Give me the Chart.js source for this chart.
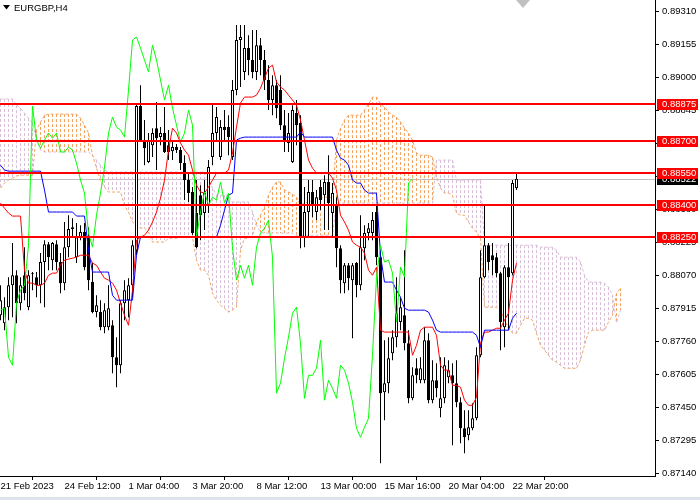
<!DOCTYPE html>
<html>
<head>
<meta charset="utf-8">
<script src="https://cdn.jsdelivr.net/npm/chart.js@4.4.0/dist/chart.umd.min.js"></script>
<style>
  html, body { margin: 0; padding: 0; background: #fff; overflow: hidden; }
  canvas { display: block; }
</style>
</head>
<body>
<canvas id="myChart" width="700" height="500"></canvas>
<script>
// EURGBP H4 - candles (bar index 0..129)
var opens = [
  0.87881,0.87844,0.87919,0.88022,0.88069,0.87938,0.88069,0.87919,0.88074,0.88060,
  0.88022,0.88131,0.88215,0.88140,0.88215,0.88131,0.88032,0.88201,0.88286,0.88154,
  0.88248,0.88272,0.88248,0.88037,0.87896,0.87896,0.87825,0.87825,0.87834,0.87684,
  0.87646,0.87938,0.87952,0.88022,0.88187,0.88864,0.88704,0.88601,0.88680,0.88760,
  0.88718,0.88737,0.88680,0.88652,0.88671,0.88657,0.88596,0.88516,0.88460,0.88361,
  0.88445,0.88361,0.88398,0.88624,0.88737,0.88624,0.88765,0.88765,0.88624,0.88939,
  0.89174,0.89024,0.89136,0.89080,0.89024,0.89150,0.89080,0.88986,0.88892,0.88962,
  0.88939,0.88774,0.88690,0.88601,0.88831,0.88784,0.88248,0.88366,0.88460,0.88366,
  0.88483,0.88445,0.88507,0.88361,0.88398,0.88196,0.88032,0.88116,0.88046,0.88126,
  0.88022,0.88196,0.88267,0.88267,0.88366,0.88154,0.87520,0.87562,0.87703,0.87778,
  0.87849,0.87881,0.87750,0.87491,0.87632,0.87576,0.87576,0.87764,0.87482,0.87576,
  0.87444,0.87491,0.87590,0.87599,0.87562,0.87473,0.87350,0.87318,0.87350,0.87397,
  0.87693,0.88060,0.88210,0.88163,0.88154,0.88079,0.87825,0.88107,0.88079,0.88478
];
var highs = [
  0.88022,0.87966,0.88060,0.88220,0.88093,0.88060,0.88201,0.88093,0.88084,0.88084,
  0.88173,0.88234,0.88225,0.88225,0.88234,0.88173,0.88319,0.88351,0.88337,0.88314,
  0.88304,0.88314,0.88295,0.88126,0.87975,0.87952,0.87938,0.88022,0.87858,0.87778,
  0.87952,0.88046,0.88055,0.88234,0.88878,0.88962,0.88798,0.88737,0.88760,0.88883,
  0.88765,0.88859,0.88751,0.88695,0.88685,0.88671,0.88633,0.88554,0.88483,0.88516,
  0.88492,0.88516,0.88610,0.88878,0.88859,0.88798,0.88845,0.88821,0.88986,0.89244,
  0.89244,0.89244,0.89197,0.89221,0.89221,0.89183,0.89127,0.89056,0.89009,0.88986,
  0.89009,0.88845,0.88831,0.88868,0.88892,0.88821,0.88483,0.88516,0.88516,0.88469,
  0.88516,0.88539,0.88633,0.88502,0.88436,0.88210,0.88126,0.88126,0.88126,0.88131,
  0.88351,0.88304,0.88314,0.88366,0.88398,0.88187,0.87764,0.87778,0.87811,0.88060,
  0.87966,0.88187,0.87811,0.87637,0.87679,0.87684,0.87825,0.87797,0.87670,0.87656,
  0.87684,0.87684,0.87670,0.87656,0.87670,0.87496,0.87435,0.87435,0.87468,0.87731,
  0.88187,0.88398,0.88220,0.88220,0.88173,0.88084,0.88116,0.88220,0.88516,0.88549
];
var lows = [
  0.87858,0.87811,0.87858,0.87872,0.87844,0.87905,0.87952,0.87905,0.87999,0.87966,
  0.87938,0.87919,0.88093,0.88093,0.88093,0.87985,0.87999,0.88154,0.88248,0.88126,
  0.88234,0.88093,0.87999,0.87891,0.87872,0.87811,0.87797,0.87811,0.87609,0.87543,
  0.87609,0.87858,0.87872,0.87966,0.88163,0.88695,0.88586,0.88596,0.88624,0.88563,
  0.88680,0.88643,0.88610,0.88610,0.88643,0.88563,0.88422,0.88413,0.88257,0.88196,
  0.88234,0.88281,0.88361,0.88586,0.88704,0.88610,0.88704,0.88633,0.88610,0.88915,
  0.88953,0.88986,0.89009,0.88995,0.88986,0.89009,0.88939,0.88845,0.88821,0.88807,
  0.88751,0.88648,0.88648,0.88596,0.88680,0.88196,0.88201,0.88248,0.88342,0.88328,
  0.88375,0.88281,0.88281,0.88248,0.88107,0.87985,0.87985,0.87999,0.87773,0.87966,
  0.87999,0.88140,0.88234,0.88234,0.88116,0.87186,0.87388,0.87515,0.87670,0.87731,
  0.87811,0.87717,0.87468,0.87482,0.87562,0.87562,0.87562,0.87468,0.87468,0.87496,
  0.87402,0.87468,0.87562,0.87271,0.87449,0.87280,0.87233,0.87294,0.87341,0.87388,
  0.87684,0.88055,0.88093,0.88069,0.88060,0.87717,0.87731,0.87811,0.88069,0.88469
];
var closes = [
  0.87952,0.87919,0.88022,0.88069,0.87938,0.88022,0.87985,0.88069,0.88079,0.88022,
  0.88131,0.88215,0.88154,0.88220,0.88131,0.88032,0.88201,0.88286,0.88295,0.88248,
  0.88272,0.88107,0.88046,0.87896,0.87928,0.87825,0.87905,0.87914,0.87684,0.87646,
  0.87938,0.87999,0.88022,0.88210,0.88864,0.88704,0.88666,0.88704,0.88737,0.88713,
  0.88737,0.88648,0.88648,0.88671,0.88657,0.88596,0.88516,0.88455,0.88267,0.88201,
  0.88351,0.88455,0.88577,0.88737,0.88812,0.88765,0.88751,0.88718,0.88939,0.89174,
  0.89188,0.89136,0.89080,0.89024,0.89150,0.89080,0.88986,0.88892,0.88962,0.88854,
  0.88774,0.88695,0.88737,0.88845,0.88774,0.88248,0.88366,0.88460,0.88398,0.88436,
  0.88422,0.88507,0.88408,0.88455,0.88196,0.88046,0.88116,0.88055,0.88116,0.88022,
  0.88201,0.88267,0.88290,0.88328,0.88154,0.87515,0.87562,0.87679,0.87778,0.87891,
  0.87919,0.87750,0.87491,0.87599,0.87599,0.87632,0.87764,0.87482,0.87576,0.87538,
  0.87491,0.87646,0.87623,0.87562,0.87473,0.87350,0.87308,0.87355,0.87397,0.87693,
  0.88060,0.88210,0.88131,0.88140,0.88079,0.87849,0.88107,0.88060,0.88502,0.88522
];

// Ichimoku lines
var tenkan = [
  0.88408,0.88384,0.88361,0.88347,0.88347,0.88347,0.88093,0.88032,0.88032,0.88022,
  0.88022,0.88032,0.88069,0.88079,0.88079,0.88116,0.88140,0.88145,0.88149,0.88154,
  0.88163,0.88163,0.88163,0.88126,0.88116,0.88084,0.88055,0.88046,0.88032,0.87999,
  0.87938,0.87881,0.87834,0.87999,0.88234,0.88248,0.88257,0.88281,0.88319,0.88366,
  0.88431,0.88516,0.88657,0.88760,0.88737,0.88690,0.88657,0.88633,0.88563,0.88492,
  0.88460,0.88455,0.88483,0.88516,0.88549,0.88549,0.88549,0.88563,0.88643,0.88765,
  0.88878,0.88906,0.88906,0.88906,0.88915,0.88948,0.88995,0.89042,0.89056,0.88977,
  0.88953,0.88939,0.88915,0.88892,0.88868,0.88798,0.88704,0.88610,0.88572,0.88549,
  0.88549,0.88549,0.88549,0.88525,0.88469,0.88351,0.88319,0.88281,0.88225,0.88210,
  0.88201,0.88173,0.88093,0.88069,0.88107,0.87811,0.87802,0.87802,0.87802,0.87802,
  0.87802,0.87802,0.87802,0.87693,0.87740,0.87811,0.87825,0.87825,0.87825,0.87787,
  0.87646,0.87623,0.87623,0.87552,0.87552,0.87543,0.87482,0.87458,0.87458,0.87496,
  0.87750,0.87802,0.87802,0.87811,0.87820,0.87820,0.87858,0.87891,0.88046,0.88126
];
var kijun = [
  0.88586,0.88563,0.88558,0.88558,0.88558,0.88558,0.88558,0.88558,0.88558,0.88558,
  0.88558,0.88469,0.88366,0.88366,0.88366,0.88366,0.88366,0.88366,0.88366,0.88347,
  0.88347,0.88347,0.88187,0.88084,0.88084,0.88084,0.88084,0.88084,0.87975,0.87952,
  0.87952,0.87952,0.87952,0.87952,0.88163,0.88248,0.88248,0.88248,0.88248,0.88248,
  0.88248,0.88248,0.88248,0.88248,0.88248,0.88248,0.88248,0.88248,0.88248,0.88248,
  0.88248,0.88248,0.88248,0.88248,0.88248,0.88304,0.88375,0.88445,0.88455,0.88704,
  0.88713,0.88718,0.88718,0.88718,0.88718,0.88718,0.88718,0.88718,0.88718,0.88718,
  0.88718,0.88718,0.88718,0.88718,0.88718,0.88742,0.88718,0.88718,0.88718,0.88718,
  0.88718,0.88718,0.88718,0.88718,0.88657,0.88619,0.88610,0.88586,0.88516,0.88502,
  0.88502,0.88469,0.88455,0.88455,0.88455,0.88163,0.88037,0.88037,0.88037,0.87999,
  0.87966,0.87914,0.87905,0.87905,0.87905,0.87905,0.87905,0.87896,0.87858,0.87811,
  0.87802,0.87802,0.87802,0.87802,0.87802,0.87802,0.87802,0.87802,0.87802,0.87787,
  0.87731,0.87811,0.87811,0.87811,0.87811,0.87811,0.87811,0.87811,0.87867,0.87891
];
// Senkou spans, already shifted 26 bars forward (index 0..155)
var spanA = [
  0.88478,0.88502,0.88516,0.88525,0.88535,0.88539,0.88539,0.88539,0.88539,0.88751,
  0.88789,0.88821,0.88826,0.88826,0.88826,0.88826,0.88826,0.88826,0.88826,0.88826,
  0.88807,0.88774,0.88737,0.88633,0.88572,0.88516,0.88483,0.88460,0.88460,0.88460,
  0.88460,0.88398,0.88366,0.88319,0.88304,0.88290,0.88290,0.88272,0.88225,0.88225,
  0.88225,0.88225,0.88243,0.88243,0.88243,0.88248,0.88248,0.88248,0.88248,0.88140,
  0.88093,0.88093,0.88069,0.87985,0.87952,0.87928,0.87914,0.87896,0.87905,0.87919,
  0.88187,0.88243,0.88243,0.88257,0.88319,0.88351,0.88389,0.88445,0.88483,0.88507,
  0.88507,0.88469,0.88460,0.88450,0.88436,0.88398,0.88408,0.88413,0.88422,0.88422,
  0.88431,0.88436,0.88436,0.88436,0.88704,0.88760,0.88798,0.88821,0.88821,0.88821,
  0.88821,0.88845,0.88873,0.88906,0.88906,0.88873,0.88859,0.88836,0.88821,0.88812,
  0.88789,0.88760,0.88737,0.88704,0.88643,0.88633,0.88633,0.88633,0.88624,0.88530,
  0.88478,0.88455,0.88455,0.88445,0.88361,0.88351,0.88351,0.88319,0.88290,0.88272,
  0.88243,0.87919,0.87919,0.87919,0.87919,0.87905,0.87858,0.87820,0.87797,0.87797,
  0.87834,0.87867,0.87867,0.87858,0.87797,0.87740,0.87717,0.87693,0.87670,0.87661,
  0.87646,0.87632,0.87632,0.87632,0.87632,0.87670,0.87740,0.87802,0.87811,0.87811,
  0.87811,0.87811,0.87849,0.87881,0.87985,0.88008
];
var spanB = [
  0.88897,0.88897,0.88897,0.88897,0.88868,0.88854,0.88831,0.88807,0.88784,0.88704,
  0.88657,0.88648,0.88648,0.88648,0.88648,0.88648,0.88648,0.88648,0.88648,0.88648,
  0.88648,0.88648,0.88648,0.88633,0.88610,0.88586,0.88563,0.88554,0.88554,0.88554,
  0.88554,0.88554,0.88554,0.88554,0.88554,0.88554,0.88554,0.88554,0.88554,0.88554,
  0.88554,0.88554,0.88554,0.88554,0.88554,0.88554,0.88554,0.88554,0.88554,0.88554,
  0.88554,0.88554,0.88516,0.88478,0.88445,0.88445,0.88445,0.88445,0.88413,0.88413,
  0.88413,0.88413,0.88413,0.88366,0.88304,0.88272,0.88267,0.88267,0.88267,0.88267,
  0.88267,0.88267,0.88267,0.88267,0.88257,0.88257,0.88257,0.88257,0.88257,0.88257,
  0.88257,0.88257,0.88257,0.88257,0.88408,0.88408,0.88408,0.88408,0.88408,0.88408,
  0.88408,0.88408,0.88408,0.88408,0.88408,0.88408,0.88408,0.88408,0.88408,0.88408,
  0.88408,0.88408,0.88408,0.88408,0.88408,0.88408,0.88408,0.88408,0.88408,0.88610,
  0.88610,0.88610,0.88610,0.88610,0.88516,0.88516,0.88516,0.88516,0.88516,0.88516,
  0.88516,0.88210,0.88210,0.88210,0.88210,0.88210,0.88210,0.88210,0.88210,0.88210,
  0.88210,0.88210,0.88210,0.88210,0.88210,0.88201,0.88201,0.88201,0.88201,0.88187,
  0.88154,0.88154,0.88154,0.88154,0.88154,0.88131,0.88069,0.88037,0.88037,0.88037,
  0.88037,0.88032,0.88013,0.87975,0.87844,0.87905
];

// horizontal levels and axes
var levels = [0.88875, 0.88700, 0.88550, 0.88400, 0.88250];
var priceTicks = [0.89310,0.89155,0.89000,0.88845,0.88690,0.88535,0.88380,0.88225,
                  0.88070,0.87915,0.87760,0.87605,0.87450,0.87295,0.87140];
var timeTickIdx = [0, 16, 32, 48, 64, 80, 96, 112, 128];
var timeLabels = ["21 Feb 2023","24 Feb 12:00","1 Mar 04:00","3 Mar 20:00","8 Mar 12:00",
                  "13 Mar 00:00","15 Mar 16:00","20 Mar 04:00","22 Mar 20:00"];
var chikouShift = 26;

var FONT = "Liberation Sans";
var AXIS_W = 45, AXIS_H = 24;
var lastClose = closes[closes.length - 1];

// datasets built from the arrays
var wickData = highs.map((h, i) => ({ x: i, y: [lows[i], h] }));
var bodyData = opens.map((o, i) => ({ x: i, y: [Math.min(o, closes[i]), Math.max(o, closes[i])] }));
var bodyFill = opens.map((o, i) => (closes[i] >= o ? "#ffffff" : "#000000"));
var toPts = (arr) => arr.map((v, i) => ({ x: i, y: v }));
var chikouData = closes.slice(chikouShift).map((c, i) => ({ x: i, y: c }));

// no label padding, so the plot fills 0..655 x 0..476
function noPad(s) {
  s.paddingTop = 0; s.paddingBottom = 0; s.paddingLeft = 0; s.paddingRight = 0;
}

// CLOUD HATCH + CURRENT PRICE LINE (behind the candles)
var cloudPlugin = {
  id: "cloud",
  beforeDatasetsDraw(chart) {
    var ctx = chart.ctx, xs = chart.scales.x, ys = chart.scales.y, area = chart.chartArea;
    ctx.save();
    ctx.beginPath();
    ctx.rect(area.left, area.top, area.right - area.left, area.bottom - area.top);
    ctx.clip();
    // grey bid line
    ctx.fillStyle = "#c0c0c0";
    ctx.fillRect(area.left, Math.round(ys.getPixelForValue(lastClose)), area.right - area.left, 1);
    ctx.lineWidth = 1;
    ctx.setLineDash([3, 2]);
    spanA.forEach((a, i) => {
      var b = spanB[i];
      var x = xs.getPixelForValue(i);
      ctx.strokeStyle = a > b ? "#f4a460" : "#d8bfd8";
      ctx.beginPath();
      ctx.moveTo(x, ys.getPixelForValue(Math.max(a, b)));
      ctx.lineTo(x, ys.getPixelForValue(Math.min(a, b)));
      ctx.stroke();
    });
    ctx.restore();
  }
};

// RED LEVELS + PRICE LABELS + TITLE
var overlayPlugin = {
  id: "overlay",
  afterDatasetsDraw(chart) {
    var ctx = chart.ctx, ys = chart.scales.y, area = chart.chartArea;
    ctx.save();
    ctx.fillStyle = "#ff0000";
    levels.forEach((lv) => {
      var y = Math.round(ys.getPixelForValue(lv));
      ctx.fillRect(area.left, y - 1, area.right - area.left, 2);
    });
    ctx.restore();
  },
  afterDraw(chart) {
    var ctx = chart.ctx, ys = chart.scales.y, area = chart.chartArea;
    ctx.save();
    ctx.font = "9.5px '" + FONT + "'";
    ctx.textBaseline = "middle";
    ctx.textAlign = "left";
    var box = (v, bg) => {
      var y = Math.round(ys.getPixelForValue(v));
      ctx.fillStyle = bg;
      ctx.fillRect(area.right + 2, y - 5, 41, 11);
      ctx.fillStyle = "#ffffff";
      ctx.fillText(v.toFixed(5), area.right + 7, y + 0.5);
    };
    box(lastClose, "#000000");
    levels.forEach((lv) => box(lv, "#ff0000"));

    // symbol title
    ctx.fillStyle = "#000000";
    ctx.beginPath();
    ctx.moveTo(3, 5); ctx.lineTo(10, 5); ctx.lineTo(6.5, 9.5); ctx.closePath();
    ctx.fill();
    ctx.fillText("EURGBP,H4", 14, 8);

    // chart shift marker
    ctx.fillStyle = "#c0c0c0";
    ctx.beginPath();
    ctx.moveTo(516, 0); ctx.lineTo(530, 0); ctx.lineTo(523, 8); ctx.closePath();
    ctx.fill();

    // window tab strip
    ctx.fillStyle = "#dde4ec";
    ctx.fillRect(0, 497, 700, 3);
    ctx.restore();
  }
};

Chart.defaults.font.family = FONT;
Chart.defaults.font.size = 9.5;
Chart.defaults.color = "#000000";

new Chart("myChart", {
  type: "bar",
  data: {
    datasets: [
      { type: "line", data: chikouData, borderColor: "#00ff00", borderWidth: 1, pointRadius: 0, order: 0 },
      { type: "line", data: toPts(kijun), borderColor: "#0000ff", borderWidth: 1, pointRadius: 0, order: 1 },
      { type: "line", data: toPts(tenkan), borderColor: "#ff0000", borderWidth: 1, pointRadius: 0, order: 2 },
      {
        type: "bar", data: bodyData, backgroundColor: bodyFill, borderColor: "#000000",
        borderWidth: 1, borderSkipped: false, barThickness: 3, minBarLength: 1,
        inflateAmount: 0, grouped: false, order: 3
      },
      {
        type: "bar", data: wickData, backgroundColor: "#000000", borderWidth: 0,
        barThickness: 1, inflateAmount: 0, grouped: false, order: 4
      },
      { type: "line", data: toPts(spanA), borderColor: "#f4a460", borderWidth: 1, borderDash: [3, 2], pointRadius: 0, order: 5 },
      { type: "line", data: toPts(spanB), borderColor: "#d8bfd8", borderWidth: 1, borderDash: [3, 2], pointRadius: 0, order: 6 }
    ]
  },
  options: {
    responsive: false,
    devicePixelRatio: 1,
    animation: false,
    events: [],
    layout: { padding: 0 },
    plugins: { legend: { display: false }, tooltip: { enabled: false }, title: { display: false } },
    elements: { line: { tension: 0 } },
    scales: {
      x: {
        type: "linear",
        min: -0.125,
        max: -0.125 + 655 / 4,
        offset: false,
        afterBuildTicks: (s) => { s.ticks = timeTickIdx.map((v) => ({ value: v })); },
        afterFit: (s) => { s.height = AXIS_H; noPad(s); },
        grid: { display: true, drawOnChartArea: false, tickLength: 4, color: "#000000" },
        border: { display: true, color: "#000000", width: 1 },
        ticks: {
          autoSkip: false, maxRotation: 0, align: "start", padding: 1,
          callback: (v) => timeLabels[timeTickIdx.indexOf(v)]
        }
      },
      y: {
        type: "linear",
        position: "right",
        min: 0.87126,
        max: 0.89362,
        afterBuildTicks: (s) => { s.ticks = priceTicks.map((v) => ({ value: v })); },
        afterFit: (s) => { s.width = AXIS_W; noPad(s); },
        grid: { display: true, drawOnChartArea: false, tickLength: 4, color: "#000000" },
        border: { display: true, color: "#000000", width: 1 },
        ticks: { padding: 3, callback: (v) => v.toFixed(5) }
      }
    }
  },
  plugins: [cloudPlugin, overlayPlugin]
});
</script>
</body>
</html>
